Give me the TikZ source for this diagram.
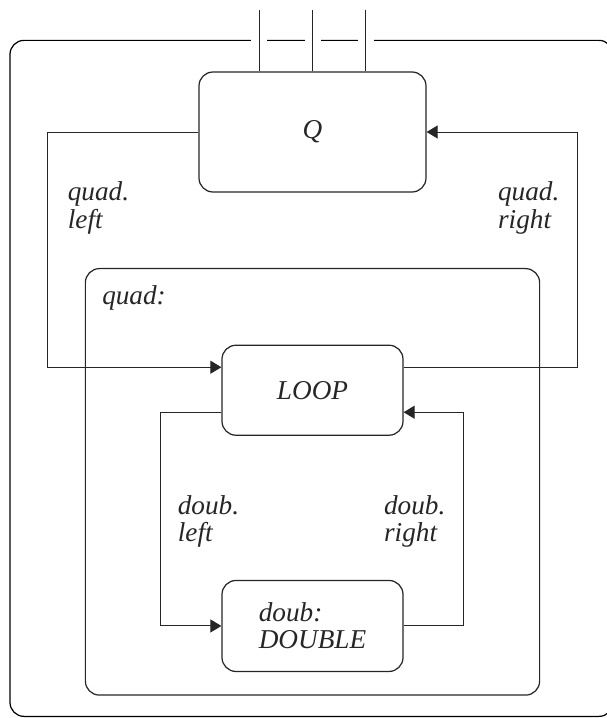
\documentclass[tikz,border=0pt]{standalone}
\usepackage{fontspec}
\setmainfont{Liberation Serif}
\usetikzlibrary{arrows.meta,positioning,calc,fit,backgrounds}

\begin{document}
\begin{tikzpicture}[
    >={Triangle[length=2.2mm, width=2.6mm]},
    color=black!85,
    line width=0.55pt,
    font=\fontsize{15.5}{15.5}\selectfont\itshape,
    blk/.style={
        rectangle, draw, rounded corners=0.28cm,
        line width=0.7pt, fill=white, inner sep=0pt
    },
    region/.style={
        rectangle, draw, rounded corners=0.28cm,
        line width=0.7pt, inner sep=0pt
    },
    lbl/.style={inner sep=0pt, align=left},
    gap/.style={draw=white, line width=0.32cm}
]

    \useasboundingbox (-6.25,2.64) rectangle (5.87,-11.72);

    % Blocks
    \node [blk, minimum width=4.54cm, minimum height=2.4cm] (Q) {Q};
    \node [blk, minimum width=3.62cm, minimum height=1.8cm, below=3.04cm of Q] (loop) {LOOP};
    \node [blk, minimum width=3.62cm, minimum height=1.82cm, below=2.88cm of loop, align=left] (dbl) {doub:\\DOUBLE};

    % Quad region
    \coordinate (qa) at ($(loop.north west)+(-2.72,1.52)$);
    \coordinate (qb) at ($(dbl.south east)+(2.72,-0.46)$);
    \node [region, fit=(qa)(qb)] (quad) {};
    \node [lbl, anchor=base west] (quadlbl) at ($(quad.north west)+(0.34,-0.74)$) {quad:};

    % Outer frame, broken where the inputs cross it
    \coordinate (fa) at ($(Q.north)+(-6.05,0.62)$);
    \coordinate (fb) at ($(Q.north)+(6.01,-12.9)$);
    \coordinate (in1) at ($(Q.north)+(-1.065,1.22)$);
    \coordinate (in2) at ($(Q.north)+(0,1.22)$);
    \coordinate (in3) at ($(Q.north)+(1.065,1.22)$);
    \begin{scope}[on background layer]
        \node [region, fit=(fa)(fb)] (frame) {};
        \draw [gap] (in1) -- (in1 |- Q.north);
        \draw [gap] (in2) -- (in2 |- Q.north);
        \draw [gap] (in3) -- (in3 |- Q.north);
    \end{scope}
    \draw (in1) -- (in1 |- Q.north);
    \draw (in2) -- (in2 |- Q.north);
    \draw (in3) -- (in3 |- Q.north);

    % Outer loop
    \coordinate (qlft) at ($(Q.west)+(-3.02,0)$);
    \coordinate (qrgt) at ($(Q.east)+(3.02,0)$);
    \draw [->] (Q.west) -- (qlft) |- ([yshift=0.46cm]loop.west);
    \draw [->] ([yshift=0.46cm]loop.east) -| (qrgt) -- (Q.east);
    \node [lbl, anchor=west] (qllbl) at ($(qlft)+(0.4,-1.52)$) {quad.\\left};
    \node [lbl, anchor=west] (qrlbl) at ($(qrgt)+(-1.6,-1.52)$) {quad.\\right};

    % Inner loop
    \coordinate (dlft) at ($(dbl.west)+(-1.22,0)$);
    \coordinate (drgt) at ($(dbl.east)+(1.2,0)$);
    \draw [->] ([yshift=-0.44cm]loop.west) -| (dlft) -- (dbl.west);
    \draw [->] (dbl.east) -- (drgt) |- ([yshift=-0.44cm]loop.east);
    \node [lbl, anchor=west] (dllbl) at ($(dlft)+(0.34,2.09)$) {doub.\\left};
    \node [lbl, anchor=west] (drlbl) at ($(drgt)+(-1.6,2.09)$) {doub.\\right};

\end{tikzpicture}
\end{document}
